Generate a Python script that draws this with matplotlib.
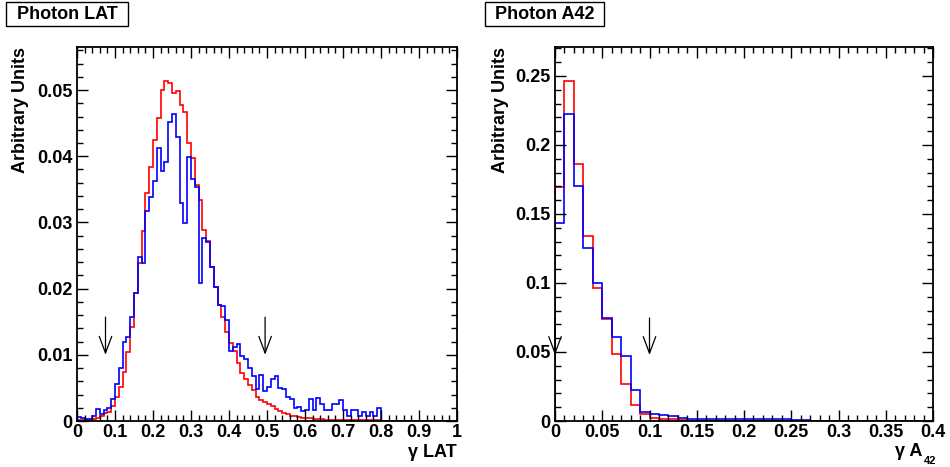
import numpy as np
import matplotlib
matplotlib.use("Agg")
import matplotlib.pyplot as plt
from matplotlib.patches import Rectangle
from matplotlib.ticker import MultipleLocator, FuncFormatter

plt.rcParams['font.family'] = ['Liberation Sans', 'DejaVu Sans']
plt.rcParams['font.weight'] = 'bold'

# ---- data ----
# left: photon LAT, 100 bins on [0, 1]
lat_edges = np.linspace(0, 1, 101)
lat_red = [
    0.0002, 0.0002, 0.0002, 0.0002, 0.0003, 0.0004, 0.0007, 0.0012, 0.0014, 0.0022,
    0.0037, 0.0052, 0.0074, 0.0104, 0.0142, 0.0193, 0.0238, 0.0287, 0.0345, 0.0384,
    0.0424, 0.0458, 0.0500, 0.0514, 0.0511, 0.0495, 0.0499, 0.0478, 0.0467, 0.0420,
    0.0397, 0.0357, 0.0334, 0.0288, 0.0272, 0.0232, 0.0203, 0.0175, 0.0157, 0.0135,
    0.0118, 0.0105, 0.0087, 0.0072, 0.0064, 0.0054, 0.0047, 0.0036, 0.0031, 0.0028,
    0.0026, 0.0023, 0.0018, 0.0015, 0.0012, 0.0010, 0.0008, 0.0007, 0.0006, 0.0005,
    0.0004, 0.0004, 0.0003, 0.0003, 0.0003, 0.0002, 0.0002, 0.0002, 0.0002, 0.0002,
    0.0001, 0.0001, 0.0001, 0.0001, 0.0001, 0.0001, 0.0001, 0.0001, 0.0001, 0.0001,
    0, 0, 0, 0, 0, 0, 0, 0, 0, 0,
    0, 0, 0, 0, 0, 0, 0, 0, 0, 0,
]
lat_blue = [
    0.0006, 0.0004, 0.0003, 0.0003, 0.0008, 0.0018, 0.0011, 0.0017, 0.0019, 0.0033,
    0.0056, 0.0080, 0.0120, 0.0127, 0.0157, 0.0193, 0.0247, 0.0238, 0.0317, 0.0339,
    0.0363, 0.0412, 0.0378, 0.0392, 0.0451, 0.0464, 0.0429, 0.0330, 0.0299, 0.0399,
    0.0366, 0.0354, 0.0208, 0.0276, 0.0271, 0.0232, 0.0203, 0.0175, 0.0174, 0.0153,
    0.0105, 0.0112, 0.0116, 0.0098, 0.0093, 0.0080, 0.0068, 0.0048, 0.0070, 0.0045,
    0.0052, 0.0063, 0.0068, 0.0050, 0.0049, 0.0037, 0.0033, 0.0019, 0.0021, 0.0015,
    0.0017, 0.0033, 0.0017, 0.0034, 0.0025, 0.0017, 0.0017, 0.0026, 0.0026, 0.0031,
    0.0017, 0.0008, 0.0017, 0.0017, 0.0008, 0.0014, 0.0008, 0.0014, 0.0008, 0.0020,
    0, 0, 0, 0, 0, 0, 0, 0, 0, 0,
    0, 0, 0, 0, 0, 0, 0, 0, 0, 0,
]
lat_arrows = [0.075, 0.495]

# right: photon A42, 40 bins on [0, 0.4]
a42_edges = np.linspace(0, 0.4, 41)
a42_red = [
    0.1693, 0.2464, 0.1860, 0.1341, 0.0961, 0.0737, 0.0486, 0.0268, 0.0114, 0.0050,
    0.0020, 0.0012, 0.0012, 0.0005, 0.0003, 0.0002, 0.0002, 0.0001, 0.0001, 0.0001,
    0.0001, 0.0001, 0.0001, 0.0001, 0.0001, 0, 0, 0, 0, 0,
    0, 0, 0, 0, 0, 0, 0, 0, 0, 0,
]
a42_blue = [
    0.1432, 0.2222, 0.1703, 0.1256, 0.1002, 0.0744, 0.0607, 0.0471, 0.0225, 0.0068,
    0.0051, 0.0043, 0.0039, 0.0019, 0.0014, 0.0014, 0.0012, 0.0012, 0.0012, 0.0012,
    0.0012, 0.0012, 0.0012, 0.0012, 0.0012, 0.0004, 0.0004, 0.0003, 0.0003, 0.0003,
    0.0003, 0.0003, 0.0003, 0.0003, 0.0003, 0.0003, 0.0003, 0.0003, 0.0003, 0.0003,
]
a42_arrows = [0.0, 0.10]


def root_fmt(v, pos):
    s = '{:.3f}'.format(v).rstrip('0').rstrip('.')
    return '0' if s in ('-0', '') else s


def style_axes(ax, xmaj, xmin, ymaj, ymin):
    ax.xaxis.set_major_locator(MultipleLocator(xmaj))
    ax.xaxis.set_minor_locator(MultipleLocator(xmin))
    ax.yaxis.set_major_locator(MultipleLocator(ymaj))
    ax.yaxis.set_minor_locator(MultipleLocator(ymin))
    ax.xaxis.set_major_formatter(FuncFormatter(root_fmt))
    ax.yaxis.set_major_formatter(FuncFormatter(root_fmt))
    ax.tick_params(which='both', direction='in', top=True, right=True, width=1.0,
                   labelsize=13)
    ax.tick_params(which='major', length=8)
    ax.tick_params(which='minor', length=4.3)
    ax.tick_params(axis='x', pad=2)
    ax.tick_params(axis='y', pad=3)
    for lbl in ax.get_xticklabels() + ax.get_yticklabels():
        lbl.set_fontweight('bold')
    for sp in ax.spines.values():
        sp.set_linewidth(1.3)


def title_box(fig, x0, x1, text):
    W, H = fig.get_size_inches() * fig.dpi
    r = Rectangle((x0 / W, 1 - 26 / H), (x1 - x0) / W, 24 / H, transform=fig.transFigure,
                  fc='white', ec='black', lw=1.0)
    fig.patches.append(r)
    fig.text((x0 + x1) / 2 / W, 1 - 14.5 / H, text, ha='center', va='center',
             fontsize=13, fontweight='bold')


def arrow(ax, x, y0, y1):
    ax.annotate('', xy=(x, y1), xytext=(x, y0),
                arrowprops=dict(arrowstyle='->,head_length=1.2,head_width=0.45',
                                color='black', lw=0.9, shrinkA=0, shrinkB=0))


fig = plt.figure(figsize=(9.5, 4.67), dpi=100)
ax1 = fig.add_axes([77 / 950, 1 - 421 / 467, 380 / 950, 374 / 467])
ax2 = fig.add_axes([555 / 950, 1 - 421 / 467, 378 / 950, 374 / 467])

# left panel
ax1.stairs(lat_red, lat_edges, color='#ff0000', lw=1.2, baseline=0)
ax1.stairs(lat_blue, lat_edges, color='#0000ff', lw=1.2, baseline=0)
ax1.set_xlim(0, 1)
ax1.set_ylim(0, 0.0565)
style_axes(ax1, 0.1, 0.02, 0.01, 0.002)
for xa in lat_arrows:
    arrow(ax1, xa, 0.0157, 0.0100)
ax1.set_ylabel('Arbitrary Units', fontsize=13, fontweight='bold', loc='top')
ax1.yaxis.set_label_coords(-0.125, 1.0)
ax1.text(1.0, -0.062, 'γ LAT', transform=ax1.transAxes, ha='right', va='top',
         fontsize=13, fontweight='bold')

# right panel
ax2.stairs(a42_red, a42_edges, color='#ff0000', lw=1.2, baseline=0)
ax2.stairs(a42_blue, a42_edges, color='#0000ff', lw=1.2, baseline=0)
ax2.set_xlim(0, 0.4)
ax2.set_ylim(0, 0.271)
style_axes(ax2, 0.05, 0.01, 0.05, 0.01)
for xa in a42_arrows:
    arrow(ax2, xa, 0.0746, 0.0478)
ax2.set_ylabel('Arbitrary Units', fontsize=13, fontweight='bold', loc='top')
ax2.yaxis.set_label_coords(-0.122, 1.0)
ax2.text(0.972, -0.060, 'γ A', transform=ax2.transAxes, ha='right', va='top',
         fontsize=13, fontweight='bold')
ax2.text(0.976, -0.094, '42', transform=ax2.transAxes, ha='left', va='top',
         fontsize=8, fontweight='bold')

title_box(fig, 6, 128, 'Photon LAT')
title_box(fig, 485, 604, 'Photon A42')

fig.savefig('out.png', dpi=100)
